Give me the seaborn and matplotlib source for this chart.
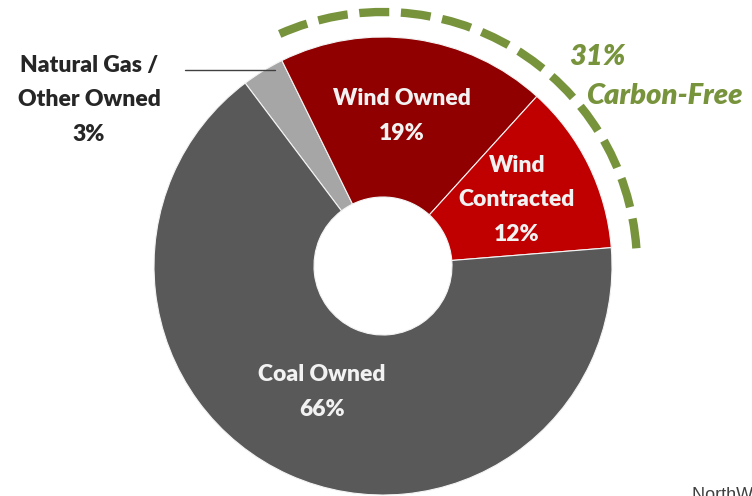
import matplotlib
matplotlib.use("Agg")
import matplotlib.pyplot as plt
from matplotlib.patches import Arc
import seaborn as sns

categories = ["Natural Gas /\nOther Owned", "Wind Owned", "Wind\nContracted", "Coal Owned"]
shares = [3, 19, 12, 66]
colors = ["#a6a6a6", "#900000", "#c00000", "#595959"]
carbon_free_label = "31%"
carbon_free_text = "Carbon-Free"
source_text = "NorthWestern Energy"

sns.set_theme(style="white")
plt.rcParams['font.family'] = ['Lato', 'DejaVu Sans']

fig = plt.figure(figsize=(7.52, 4.96), dpi=100)
ax = fig.add_axes([0, 0, 1, 1])

H = 496
cx, cy = 383, H - 266
R, r_in = 229, 69

wedges, _ = ax.pie(shares, colors=colors, startangle=127, counterclock=False,
                   center=(cx, cy), radius=R, frame=True,
                   wedgeprops=dict(width=R - r_in, edgecolor="#f4f4f4", linewidth=0.8))
ax.set_xlim(0, 752)
ax.set_ylim(0, 496)
ax.set_aspect("equal")
ax.axis("off")

txt = dict(fontweight="heavy", ha="center", va="center", fontsize=16.5, linespacing=1.8)
ax.text(402, H - 116, f"{categories[1]}\n{shares[1]}%", color="#f2f2f2", **txt)
ax.text(517, H - 200, f"{categories[2]}\n{shares[2]}%", color="#f2f2f2", **txt)
ax.text(322, H - 392, f"{categories[3]}\n{shares[3]}%", color="#f2f2f2", **txt)
ax.text(89, H - 100, f"{categories[0]}\n{shares[0]}%", color="#262626", **txt)
ax.plot([185, 275], [H - 70, H - 70], color="#404040", lw=1.0)

arc = Arc((cx, cy), 2 * 254, 2 * 254, theta1=4, theta2=114, color="#77933c",
          lw=6.0, linestyle=(0, (3.6, 1.4)))
arc.set_capstyle("butt")
ax.add_patch(arc)

ax.text(569, H - 57, carbon_free_label, color="#77933c", fontsize=21, fontweight="heavy",
        fontstyle="italic", ha="left", va="center")
ax.text(586, H - 96, carbon_free_text, color="#77933c", fontsize=21, fontweight="heavy",
        fontstyle="italic", ha="left", va="center")

ax.text(692, H - 487, source_text, color="#404040", fontsize=13, ha="left", va="top",
        family="Liberation Sans")

fig.savefig("out.png", dpi=100)
